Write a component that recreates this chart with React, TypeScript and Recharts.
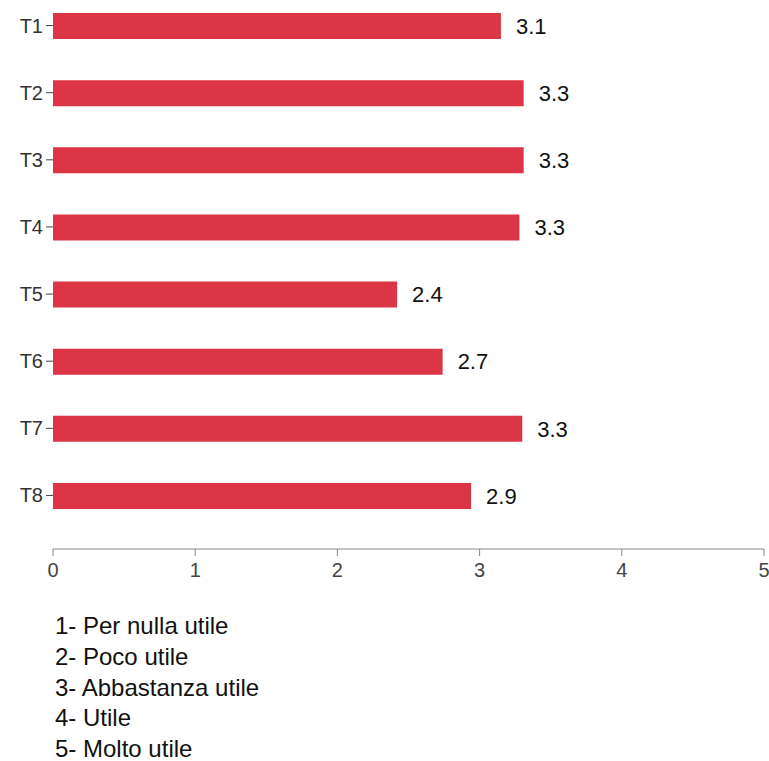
import React from "react"
import {
  BarChart,
  Bar,
  XAxis,
  YAxis,
  LabelList,
} from "recharts"

const CATEGORIES = ["T1", "T2", "T3", "T4", "T5", "T6", "T7", "T8"]
const SCORES = [3.15, 3.31, 3.31, 3.28, 2.42, 2.74, 3.3, 2.94]
const X_TICKS = [0, 1, 2, 3, 4, 5]
const SCALE_LABELS = [
  "1- Per nulla utile",
  "2- Poco utile",
  "3- Abbastanza utile",
  "4- Utile",
  "5- Molto utile",
]

const BAR_COLOR = "#dc3545"
const FONT = "'Liberation Sans', Arial, sans-serif"

const data = CATEGORIES.map((name, i) => ({ name, value: SCORES[i] }))

// axis ticks drawn by hand so the font size sticks
const XTick = (props: any) => {
  const { x, y, payload } = props
  return (
    <text x={x} y={y + 17} textAnchor="middle" fontSize={20} fontFamily={FONT} fill="#444">
      {payload.value}
    </text>
  )
}

const YTick = (props: any) => {
  const { x, y, payload } = props
  return (
    <text x={x} y={y + 7} textAnchor="end" fontSize={20} fontFamily={FONT} fill="#333">
      {payload.value}
    </text>
  )
}

export default function App() {
  return (
    <div
      style={{
        position: "fixed",
        left: 0,
        top: 0,
        width: 769,
        height: 761,
        overflow: "hidden",
        background: "#fff",
        fontFamily: FONT,
      }}
    >
      <style>{".recharts-surface{overflow:visible}"}</style>
      <div style={{ position: "absolute", left: 0, top: -8 }}>
        <BarChart
          width={769}
          height={609}
          data={data}
          layout="vertical"
          margin={{ top: 0, right: 5, bottom: 0, left: 0 }}
        >
          <XAxis
            type="number"
            domain={[0, 5]}
            ticks={X_TICKS}
            interval={0}
            height={52}
            tickSize={7}
            tickMargin={4}
            stroke="#888"
            tick={<XTick />}
          />
          <YAxis
            type="category"
            dataKey="name"
            width={53}
            axisLine={false}
            tickSize={7}
            tickMargin={3}
            stroke="#444"
            padding={{ top: 0, bottom: 20 }}
            tick={<YTick />}
          />
          <Bar
            dataKey="value"
            fill={BAR_COLOR}
            barSize={26}
            isAnimationActive={false}
          >
            <LabelList
              dataKey="value"
              position="right"
              offset={15}
              formatter={(v: number) => v.toFixed(1)}
              style={{ fill: "#111", fontSize: 22, fontFamily: FONT }}
            />
          </Bar>
        </BarChart>
      </div>
      <div
        style={{
          position: "absolute",
          left: 55,
          top: 611,
          fontSize: 24,
          lineHeight: "30.8px",
          color: "#111",
        }}
      >
        {SCALE_LABELS.map((t) => (
          <div key={t}>{t}</div>
        ))}
      </div>
    </div>
  )
}
